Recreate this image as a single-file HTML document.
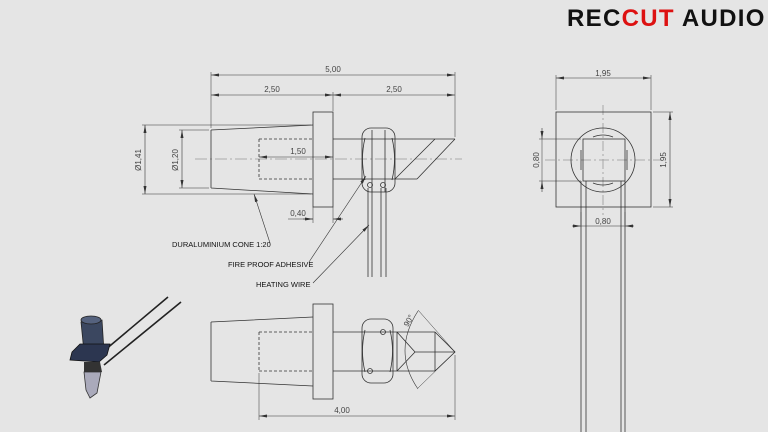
<!DOCTYPE html>
<html><head><meta charset="utf-8"><style>
html,body{margin:0;padding:0;background:#e5e5e5;}
svg{display:block}
text{font-family:"Liberation Sans",sans-serif;}
</style></head><body>
<svg width="768" height="432" viewBox="0 0 768 432" xmlns="http://www.w3.org/2000/svg">
<defs>
<marker id="a" markerWidth="8" markerHeight="6" refX="8" refY="3" orient="auto-start-reverse" markerUnits="userSpaceOnUse"><path d="M0,1.5 L8,3 L0,4.5" fill="#333"/></marker>
</defs>
<rect width="768" height="432" fill="#e5e5e5"/>
<!-- logo -->
<text x="567" y="26" font-size="24" font-weight="bold" fill="#111" letter-spacing="1.3">REC<tspan fill="#d11">CUT</tspan> AUDIO</text>

<g stroke="#333" stroke-width="0.8" fill="none">
<!-- ===== TOP VIEW ===== -->
<line x1="195" y1="159" x2="462" y2="159" stroke="#999" stroke-dasharray="12,3,2,3"/>
<path d="M211,130 L313,125 M211,188 L313,194 M211,130 L211,188"/>
<rect x="313" y="112" width="20" height="95"/>
<path d="M259,139 L313,139 M259,179 L313,179 M259,139 L259,179" stroke-dasharray="3,2"/>
<path d="M333,139 L455,139 M333,179 L417,179 M395,179 L435,139 M417,179 L455,139"/>
<rect x="362" y="128" width="33" height="64" rx="9"/>
<path d="M372,130 L372,192 M385,130 L385,192"/>
<path d="M365,138 Q360,159 365,180 M392,138 Q397,159 392,180"/>
<circle cx="370" cy="185" r="2.5"/><circle cx="383" cy="185" r="2.5"/>
<path d="M368,188 L368,277 M372,188 L372,277 M381,188 L381,277 M386,188 L386,277"/>
<!-- dims -->
<path d="M211,72 L211,128 M455,72 L455,137 M333,92 L333,111" stroke-width="0.5"/>
<line x1="211" y1="75" x2="455" y2="75" marker-start="url(#a)" marker-end="url(#a)" stroke-width="0.6"/>
<line x1="211" y1="95" x2="333" y2="95" marker-start="url(#a)" marker-end="url(#a)" stroke-width="0.6"/>
<line x1="333" y1="95" x2="455" y2="95" marker-start="url(#a)" marker-end="url(#a)" stroke-width="0.6"/>
<path d="M142,125 L311,125 M142,194 L311,194 M179,130 L209,130 M179,188 L209,188" stroke-width="0.5"/>
<line x1="145" y1="125" x2="145" y2="194" marker-start="url(#a)" marker-end="url(#a)" stroke-width="0.6"/>
<line x1="182" y1="130" x2="182" y2="188" marker-start="url(#a)" marker-end="url(#a)" stroke-width="0.6"/>
<line x1="259" y1="157" x2="333" y2="157" marker-start="url(#a)" marker-end="url(#a)" stroke-width="0.6"/>
<path d="M313,207 L313,223 M333,207 L333,223 M288,219 L313,219" stroke-width="0.5"/>
<line x1="303" y1="219" x2="313" y2="219" marker-end="url(#a)" stroke-width="0.6"/>
<line x1="343" y1="219" x2="333" y2="219" marker-end="url(#a)" stroke-width="0.6"/>
<!-- leaders -->
<line x1="270" y1="243" x2="254" y2="194" marker-end="url(#a)" stroke-width="0.6"/>
<line x1="309" y1="262" x2="366" y2="176" marker-end="url(#a)" stroke-width="0.6"/>
<line x1="313" y1="283" x2="369" y2="225" marker-end="url(#a)" stroke-width="0.6"/>

<!-- ===== RIGHT VIEW ===== -->
<line x1="603" y1="105" x2="603" y2="215" stroke="#999" stroke-dasharray="10,3,2,3"/>
<line x1="545" y1="160" x2="662" y2="160" stroke="#999" stroke-dasharray="10,3,2,3"/>
<rect x="556" y="112" width="95" height="95"/>
<circle cx="603" cy="160" r="32"/>
<rect x="583" y="139" width="42" height="42"/>
<path d="M581,150 L581,170 M627,150 L627,170 M593,137 Q603,133 613,137 M593,183 Q603,187 613,183"/>
<path d="M581,181 L581,432 M586,181 L586,432 M621,181 L621,432 M625,181 L625,432"/>
<path d="M556,75 L556,110 M651,75 L651,110 M653,112 L673,112 M653,207 L673,207 M539,139 L581,139 M539,181 L581,181 M581,212 L581,225 M625,212 L625,225" stroke-width="0.5"/>
<line x1="556" y1="78" x2="651" y2="78" marker-start="url(#a)" marker-end="url(#a)" stroke-width="0.6"/>
<line x1="670" y1="112" x2="670" y2="207" marker-start="url(#a)" marker-end="url(#a)" stroke-width="0.6"/>
<line x1="542" y1="128" x2="542" y2="139" marker-end="url(#a)" stroke-width="0.6"/>
<line x1="542" y1="192" x2="542" y2="181" marker-end="url(#a)" stroke-width="0.6"/>
<line x1="542" y1="139" x2="542" y2="181" stroke-width="0.5"/>
<line x1="572" y1="226" x2="581" y2="226" marker-end="url(#a)" stroke-width="0.6"/>
<line x1="634" y1="226" x2="625" y2="226" marker-end="url(#a)" stroke-width="0.6"/>
<line x1="581" y1="226" x2="625" y2="226" stroke-width="0.5"/>

<!-- ===== BOTTOM VIEW ===== -->
<path d="M211,322 L313,317 M211,381 L313,386 M211,322 L211,381"/>
<rect x="313" y="304" width="20" height="95"/>
<path d="M259,332 L313,332 M259,371 L313,371 M259,332 L259,371" stroke-dasharray="3,2"/>
<path d="M333,332 L435,332 M333,371 L435,371 M397,332 L397,371 M435,332 L435,371 M435,332 L455,352 L435,371 M397,332 L415,352 L397,371 M415,352 L455,352"/>
<rect x="362" y="319" width="31" height="64" rx="9"/>
<path d="M365,330 Q360,351 365,372 M390,330 Q395,351 390,372"/>
<circle cx="383" cy="332" r="2.5"/><circle cx="370" cy="371" r="2.5"/>
<path d="M418,311 Q392,351 418,389" stroke-width="0.6"/>
<path d="M418,310 L455,352 M418,388 L455,352" stroke-width="0.5"/>
<path d="M259,373 L259,420 M455,355 L455,420" stroke-width="0.5"/>
<line x1="259" y1="416" x2="455" y2="416" marker-start="url(#a)" marker-end="url(#a)" stroke-width="0.6"/>

<!-- 3D icon wires -->
<path d="M105,350 L168,297 M104,365 L181,302" stroke="#222" stroke-width="1.6"/>
</g>

<!-- 3D icon -->
<g>
<path d="M81,322 L84,352 L104,352 L102,320 Z" fill="#3b4760" stroke="#222" stroke-width="0.8"/>
<ellipse cx="91" cy="320" rx="10" ry="4" fill="#55627e" stroke="#222" stroke-width="0.8"/>
<path d="M72,352 L80,344 L110,344 L107,355 L99,362 L70,360 Z" fill="#2c3650" stroke="#111" stroke-width="0.8"/>
<path d="M84,362 L100,362 L102,372 L84,372 Z" fill="#333"/>
<path d="M84,372 L101,372 L97,393 L90,398 L86,390 Z" fill="#aab" stroke="#333" stroke-width="0.8"/>
</g>

<!-- text -->
<g font-size="8" fill="#444">
<text x="333" y="72" text-anchor="middle">5,00</text>
<text x="272" y="92" text-anchor="middle">2,50</text>
<text x="394" y="92" text-anchor="middle">2,50</text>
<text x="298" y="154" text-anchor="middle">1,50</text>
<text x="298" y="216" text-anchor="middle">0,40</text>
<text transform="translate(141,160) rotate(-90)" text-anchor="middle">Ø1,41</text>
<text transform="translate(178,160) rotate(-90)" text-anchor="middle">Ø1,20</text>
<text x="603" y="76" text-anchor="middle">1,95</text>
<text transform="translate(666,160) rotate(-90)" text-anchor="middle">1,95</text>
<text transform="translate(539,160) rotate(-90)" text-anchor="middle">0,80</text>
<text x="603" y="224" text-anchor="middle">0,80</text>
<text x="342" y="413" text-anchor="middle">4,00</text>
<text transform="translate(411,322) rotate(-60)" text-anchor="middle">90°</text>
</g>
<g font-size="7.5" fill="#111">
<text x="172" y="247">DURALUMINIUM CONE 1:20</text>
<text x="228" y="267">FIRE PROOF ADHESIVE</text>
<text x="256" y="287">HEATING WIRE</text>
</g>
</svg>
</body></html>
